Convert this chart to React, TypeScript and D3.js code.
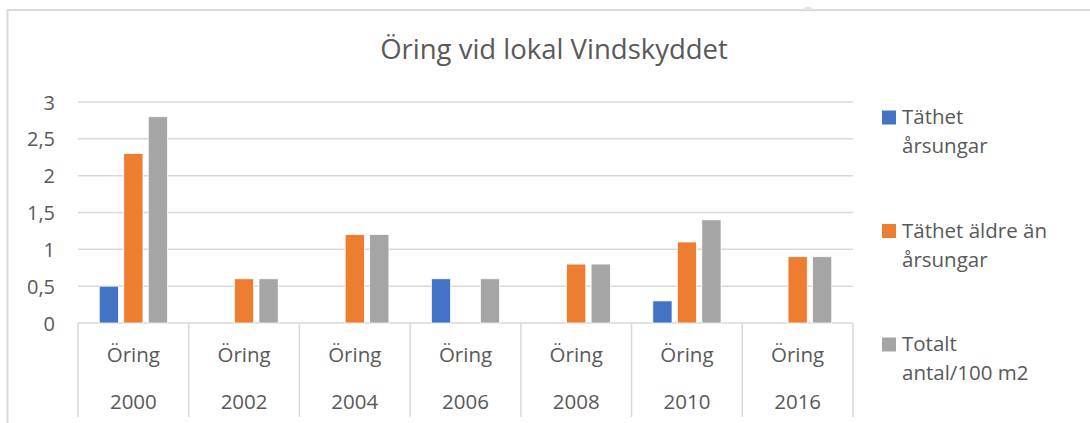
import * as d3 from "d3";

const WIDTH = 1090;
const HEIGHT = 423;

const years = ["2000", "2002", "2004", "2006", "2008", "2010", "2016"];
const species = "Öring";
const seriesNames = ["Täthet årsungar", "Täthet äldre än årsungar", "Totalt antal/100 m2"];
const legendLines = [
  ["Täthet", "årsungar"],
  ["Täthet äldre än", "årsungar"],
  ["Totalt", "antal/100 m2"],
];
const seriesColors = ["#4472c4", "#ed7d31", "#a5a5a5"];

// null = no bar in that year
const tathetArsungar = [0.5, null, null, 0.6, null, 0.3, null];
const tathetAldre = [2.3, 0.6, 1.2, null, 0.8, 1.1, 0.9];
const totalt = [2.8, 0.6, 1.2, 0.6, 0.8, 1.4, 0.9];
const seriesValues = [tathetArsungar, tathetAldre, totalt];

const yTicks = [0, 0.5, 1, 1.5, 2, 2.5, 3];

const PLOT = { left: 78, right: 853, top: 102, bottom: 323 };
const FONT = "'Open Sans', 'Noto Sans', sans-serif";
const TEXT = "#595959";
const GRID = "#d9d9d9";

const svLocale = d3.formatLocale({ decimal: ",", thousands: " ", grouping: [3], currency: ["", " kr"] });
const fmt = svLocale.format("~g");

export default function App() {
  const xScale = d3.scaleBand().domain(years).range([PLOT.left, PLOT.right]).padding(0);
  const inner = d3
    .scaleBand()
    .domain(seriesNames)
    .range([0, xScale.bandwidth()])
    .paddingInner(0.216)
    .paddingOuter(0.867);
  const yScale = d3.scaleLinear().domain([0, 3]).range([PLOT.bottom, PLOT.top]);

  const bars = seriesValues.flatMap((vals, si) =>
    vals.map((v, i) => {
      if (v === null) return null;
      const x = (xScale(years[i]) ?? 0) + (inner(seriesNames[si]) ?? 0);
      return (
        <rect
          key={`${si}-${i}`}
          x={x}
          y={yScale(v)}
          width={inner.bandwidth()}
          height={yScale(0) - yScale(v)}
          fill={seriesColors[si]}
          stroke="#fff"
          strokeWidth={0.75}
        />
      );
    })
  );

  const grid = yTicks.map((t) => (
    <g key={t}>
      <line x1={PLOT.left} x2={PLOT.right} y1={yScale(t)} y2={yScale(t)} stroke={GRID} strokeWidth={1.5} />
      <text
        x={55}
        y={yScale(t)}
        textAnchor="end"
        dominantBaseline="central"
        fontSize={20}
        fill={TEXT}
      >
        {fmt(t)}
      </text>
    </g>
  ));

  const boundaries = [...years.map((y) => xScale(y) ?? 0), PLOT.right];
  const dividers = boundaries.map((x, i) => (
    <line key={i} x1={x} x2={x} y1={PLOT.bottom} y2={417} stroke={GRID} strokeWidth={1.5} />
  ));

  const catLabels = years.map((y) => {
    const cx = (xScale(y) ?? 0) + xScale.bandwidth() / 2;
    return (
      <g key={y}>
        <text x={cx} y={362} textAnchor="middle" fontSize={20.5} fill={TEXT}>
          {species}
        </text>
        <text x={cx} y={409} textAnchor="middle" fontSize={20.5} fill={TEXT}>
          {y}
        </text>
      </g>
    );
  });

  const legendY = [110.5, 224, 337.5];
  const legend = legendLines.map((lines, i) => (
    <g key={i}>
      <rect x={882} y={legendY[i]} width={14} height={14} fill={seriesColors[i]} />
      {lines.map((l, j) => (
        <text key={j} x={902} y={legendY[i] + 13.5 + j * 29} fontSize={20.5} fill={TEXT}>
          {l}
        </text>
      ))}
    </g>
  ));

  return (
    <svg
      width={WIDTH}
      height={HEIGHT}
      style={{ position: "absolute", left: 0, top: 0, background: "#fff" }}
      fontFamily={FONT}
    >
      <rect x={0} y={0} width={WIDTH} height={HEIGHT} fill="#fff" />
      {/* chart area border (left + top visible) */}
      <path d={`M7.5,${HEIGHT} V10 H${WIDTH}`} fill="none" stroke={GRID} strokeWidth={2} />
      <path d="M802,10 Q808,3 814,10 Z" fill="#e4e4e4" />
      <text x={554} y={59} textAnchor="middle" fontSize={27.5} fill={TEXT}>
        Öring vid lokal Vindskyddet
      </text>
      {grid}
      {dividers}
      {bars}
      {catLabels}
      {legend}
    </svg>
  );
}
